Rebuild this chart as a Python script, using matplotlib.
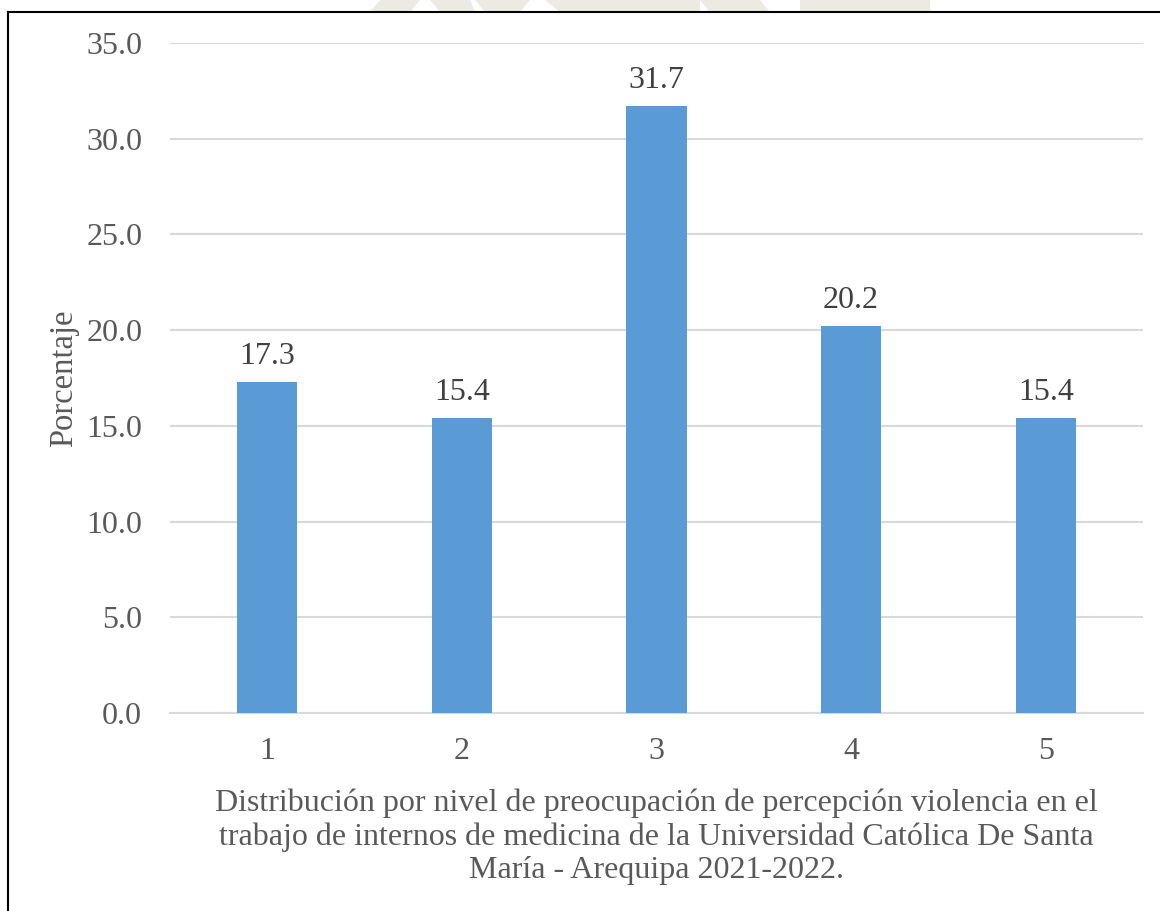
import matplotlib
matplotlib.use("Agg")
import matplotlib.pyplot as plt
from matplotlib.patches import Polygon
from matplotlib.lines import Line2D

categories = ["1", "2", "3", "4", "5"]
percentages = [17.3, 15.4, 31.7, 20.2, 15.4]
y_ticks = [0, 5, 10, 15, 20, 25, 30, 35]

plt.rcParams["font.family"] = ["Liberation Serif", "DejaVu Serif"]

W, H = 1160, 911
fig = plt.figure(figsize=(W / 100, H / 100), dpi=100)
fig.patch.set_facecolor("white")

# faint watermark fragments showing above the frame
wm_color = "#ebebe4"
shapes = [
    [(380, 0), (420, 0), (410, 12), (370, 12)],
    [(430, 0), (470, 0), (475, 12), (440, 12)],
    [(475, 0), (530, 0), (520, 12), (485, 12)],
    [(545, 0), (600, 0), (610, 12), (560, 12)],
    [(630, 0), (690, 0), (680, 12), (640, 12)],
    [(700, 0), (760, 0), (770, 12), (710, 12)],
    [(590, 0), (700, 0), (700, 12), (590, 12)],
    [(800, 0), (930, 0), (930, 12), (800, 12)],
]
for pts in shapes:
    fig.patches.append(Polygon([(x / W, 1 - y / H) for x, y in pts],
                               closed=True, transform=fig.transFigure,
                               facecolor=wm_color, edgecolor="none", zorder=0))

# frame around the chart (top and left edges visible)
fig.add_artist(Line2D([8 / W, 1.0], [1 - 12 / H, 1 - 12 / H],
                      transform=fig.transFigure, color="black", lw=1.5))
fig.add_artist(Line2D([8 / W, 8 / W], [0, 1 - 12 / H],
                      transform=fig.transFigure, color="black", lw=1.5))

left, right = 170 / W, 1143 / W
top, bottom = 1 - 43 / H, 1 - 713 / H
ax = fig.add_axes([left, bottom, right - left, top - bottom])
ax.set_facecolor("none")

x = list(range(1, len(categories) + 1))
bars = ax.bar(x, percentages, width=0.31, color="#5b9bd5", zorder=3)

for xi, v in zip(x, percentages):
    ax.annotate(f"{v:.1f}", (xi, v), xytext=(0, 8), textcoords="offset points",
                ha="center", va="bottom", fontsize=23, color="#404040")

ax.set_xlim(0.5, 5.5)
ax.set_ylim(0, 35)
ax.set_yticks(y_ticks)
ax.set_yticklabels([f"{t:.1f}" for t in y_ticks])
ax.set_xticks(x)
ax.set_xticklabels(categories)

ax.yaxis.grid(True, color="#d9d9d9", lw=1.5, zorder=0)
ax.set_axisbelow(True)
for s in ["top", "right", "left"]:
    ax.spines[s].set_visible(False)
ax.spines["bottom"].set_color("#d9d9d9")
ax.spines["bottom"].set_linewidth(1.5)

ax.tick_params(axis="y", length=0, pad=20, labelsize=23, labelcolor="#595959")
ax.tick_params(axis="x", length=0, pad=17.5, labelsize=23, labelcolor="#595959")

ax.set_ylabel("Porcentaje", fontsize=23.5, color="#595959", labelpad=5)
ax.set_xlabel("Distribución por nivel de preocupación de percepción violencia en el\n"
              "trabajo de internos de medicina de la Universidad Católica De Santa\n"
              "María - Arequipa 2021-2022.",
              fontsize=23, color="#595959", labelpad=16, linespacing=1.2)

fig.savefig("out.png", dpi=100, facecolor="white")
